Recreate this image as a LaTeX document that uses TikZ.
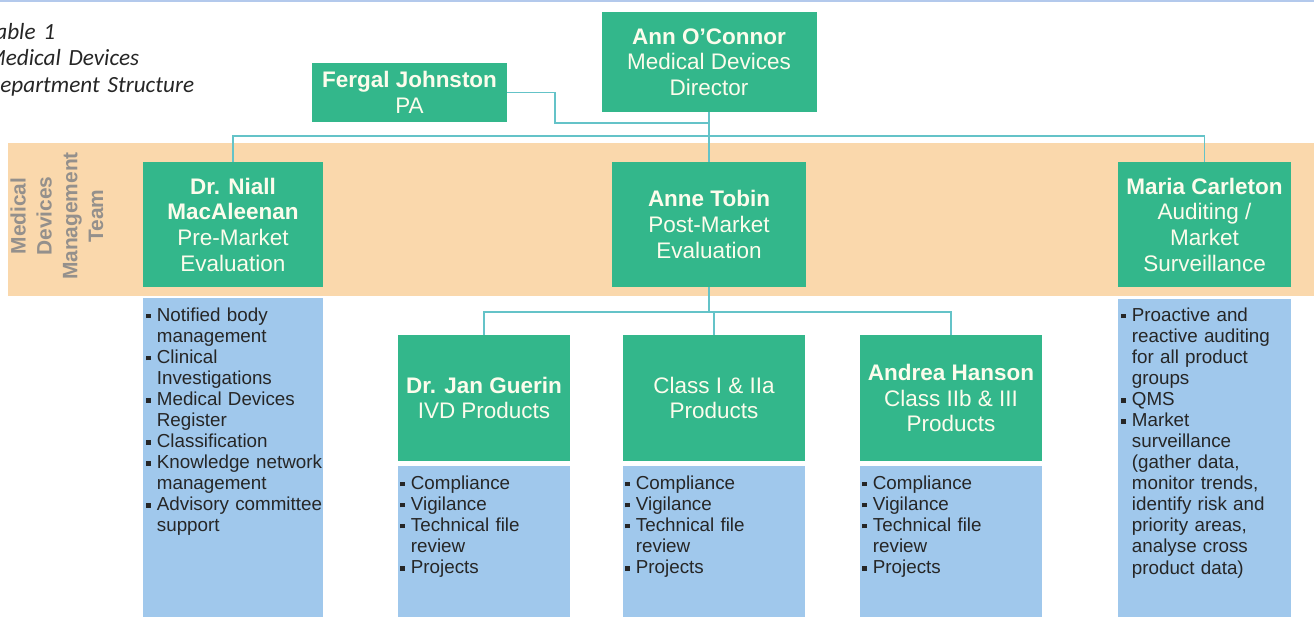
\documentclass[tikz,border=0pt]{standalone}
\usepackage{fontspec}
\setmainfont{Liberation Sans}
\newfontfamily\captionfont{Carlito}

\definecolor{orggreen}{RGB}{51,183,139}
\definecolor{boxtext}{RGB}{252,252,236}
\definecolor{listblue}{RGB}{160,200,236}
\definecolor{teamband}{RGB}{250,216,172}
\definecolor{linkcol}{RGB}{100,195,200}
\definecolor{teamgray}{RGB}{148,144,140}
\definecolor{framecol}{RGB}{179,201,236}

% one bullet point of a duty list, with a hanging indent
\newcommand\dutyitem[1]{\hangindent=6pt\hangafter=1\noindent
  \makebox[6pt][l]{\rule[1.6pt]{2.6pt}{2.6pt}}#1\par}

\begin{document}
\begin{tikzpicture}[
    orgbox/.style={rectangle, fill=orggreen, text=boxtext, align=center,
      inner sep=0pt, font=\fontsize{12.8}{14.6}\selectfont},
    dutybox/.style={rectangle, fill=listblue, inner sep=0pt, anchor=north west},
    dutytext/.style={anchor=base west, align=left, text width=4cm, inner sep=0pt,
      text=black!85, font=\fontsize{10.7}{12.0}\selectfont},
    link/.style={draw=linkcol, line width=0.85pt}]
                        \useasboundingbox (0,0) rectangle (26.280000,12.340000);
                        \clip (0,0) rectangle (26.280000,12.340000);

                        % Drawing frame line and team band
                        \draw [framecol, line width=1.1pt] (0,12.320000) -- (26.280000,12.320000);%
                        \fill [teamband] (0.160000,6.420000) rectangle (26.280000,9.480000);%

                        % Caption
                        \node [anchor=base west, align=left, text width=6cm, inner sep=0pt, text=black!85,
                          font=\captionfont\itshape\fontsize{13.2}{15.3}\selectfont]
                          (caption) at (-0.286000,11.560000)
                          {Table 1\\Medical Devices\\Department Structure};%

                        % Team label
                        \node [rotate=90, align=center, inner sep=0pt, text=teamgray,
                          font=\bfseries\fontsize{11.9}{14.7}\selectfont]
                          (team) at (1.140000,8.020000)
                          {Medical\\Devices\\Management\\Team};%

                        % Drawing director and PA
                        \node [orgbox, minimum width=4.30cm, minimum height=2.00cm] (director)
                          at (14.180000,11.100000) {\textbf{Ann O'Connor}\\Medical Devices\\Director};%
                        \node [orgbox, minimum width=3.90cm, minimum height=1.18cm] (pa)
                          at (8.190000,10.490000) {\textbf{Fergal Johnston}\\PA};%

                        % Drawing management team
                        \node [orgbox, minimum width=3.60cm, minimum height=2.50cm] (niall)
                          at (4.660000,7.850000) {\textbf{Dr. Niall}\\\textbf{MacAleenan}\\Pre-Market\\Evaluation};%
                        \node [orgbox, minimum width=3.88cm, minimum height=2.50cm] (tobin)
                          at (14.180000,7.850000) {\textbf{Anne Tobin}\\Post-Market\\Evaluation};%
                        \node [orgbox, minimum width=3.46cm, minimum height=2.50cm] (carleton)
                          at (24.090000,7.850000) {\textbf{Maria Carleton}\\Auditing /\\Market\\Surveillance};%

                        % Drawing product groups
                        \node [orgbox, minimum width=3.44cm, minimum height=2.52cm] (guerin)
                          at (9.680000,4.380000) {\textbf{Dr. Jan Guerin}\\IVD Products};%
                        \node [orgbox, minimum width=3.64cm, minimum height=2.52cm] (classone)
                          at (14.280000,4.380000) {Class I \& IIa\\Products};%
                        \node [orgbox, minimum width=3.64cm, minimum height=2.52cm] (hanson)
                          at (19.020000,4.380000) {\textbf{Andrea Hanson}\\Class IIb \& III\\Products};%

                        % Drawing duty lists
                        \node [dutybox, minimum width=3.60cm, minimum height=6.38cm] (niallduty) at (2.860000,6.380000) {};%
                        \node [dutybox, minimum width=3.44cm, minimum height=3.02cm] (guerinduty) at (7.960000,3.020000) {};%
                        \node [dutybox, minimum width=3.64cm, minimum height=3.02cm] (classoneduty) at (12.460000,3.020000) {};%
                        \node [dutybox, minimum width=3.64cm, minimum height=3.02cm] (hansonduty) at (17.200000,3.020000) {};%
                        \node [dutybox, minimum width=3.46cm, minimum height=6.36cm] (carletonduty) at (22.360000,6.360000) {};%

                        \node [dutytext] (nialltext) at (2.920000,5.920000)
                          {\dutyitem{Notified body\newline management}\dutyitem{Clinical\newline Investigations}%
                           \dutyitem{Medical Devices\newline Register}\dutyitem{Classification}%
                           \dutyitem{Knowledge network\newline management}\dutyitem{Advisory committee\newline support}};%
                        \node [dutytext] (guerintext) at (8.000000,2.560000)
                          {\dutyitem{Compliance}\dutyitem{Vigilance}\dutyitem{Technical file\newline review}\dutyitem{Projects}};%
                        \node [dutytext] (classonetext) at (12.500000,2.560000)
                          {\dutyitem{Compliance}\dutyitem{Vigilance}\dutyitem{Technical file\newline review}\dutyitem{Projects}};%
                        \node [dutytext] (hansontext) at (17.240000,2.560000)
                          {\dutyitem{Compliance}\dutyitem{Vigilance}\dutyitem{Technical file\newline review}\dutyitem{Projects}};%
                        \node [dutytext] (carletontext) at (22.420000,5.920000)
                          {\dutyitem{Proactive and\newline reactive auditing\newline for all product\newline groups}\dutyitem{QMS}%
                           \dutyitem{Market\newline surveillance\newline (gather data,\newline monitor trends,\newline identify risk and\newline priority areas,\newline analyse cross\newline product data)}};%

                        % Drawing connectors
                        \coordinate (bus) at (14.180000,9.620000);
                        \coordinate (pabend) at (11.100000,9.880000);
                        \coordinate (subbus) at (14.180000,6.100000);

                        \draw [link] (director.south) -- (tobin.north);%
                        \draw [link] (pa.east) -| (pabend) -- (pabend -| director.south);%
                        \draw [link] (niall.north) -- (niall.north |- bus) -- (carleton.north |- bus) -- (carleton.north);%
                        \draw [link] (tobin.south) -- (subbus);%
                        \draw [link] (guerin.north) -- (guerin.north |- subbus) -- (hanson.north |- subbus) -- (hanson.north);%
                        \draw [link] (classone.north) -- (classone.north |- subbus);%
\end{tikzpicture}
\end{document}
